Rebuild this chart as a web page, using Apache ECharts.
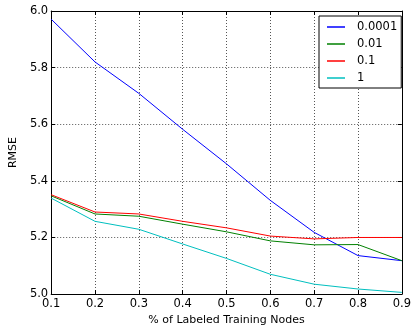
<!DOCTYPE html>
<html>
<head>
<meta charset="utf-8">
<script src="https://cdn.jsdelivr.net/npm/echarts@6/dist/echarts.min.js"></script>
<style>
  html, body { margin: 0; padding: 0; background: #fff; }
  #chart { width: 414px; height: 331px; }
</style>
</head>
<body>
<div id="chart"></div>
<script>
const categories = ["0.1", "0.2", "0.3", "0.4", "0.5", "0.6", "0.7", "0.8", "0.9"];
const seriesNames = ["0.0001", "0.01", "0.1", "1"];
const s0001 = [5.971, 5.820, 5.709, 5.582, 5.460, 5.331, 5.218, 5.136, 5.118];
const s001 = [5.347, 5.283, 5.275, 5.247, 5.220, 5.188, 5.174, 5.175, 5.118];
const s01 = [5.351, 5.290, 5.283, 5.257, 5.234, 5.205, 5.195, 5.200, 5.200];
const s1 = [5.339, 5.257, 5.229, 5.177, 5.126, 5.070, 5.035, 5.018, 5.006];
const colors = ["#0000ff", "#008000", "#ff0000", "#00bfbf"];

const font = "DejaVu Sans";
const chart = echarts.init(document.getElementById("chart"));

const tick = { show: true, inside: true, length: 4, lineStyle: { color: "#000", width: 1 } };
const frame = { show: true, onZero: false, lineStyle: { color: "#000", width: 1 } };
const grid = { show: true, lineStyle: { color: "#555", width: 1, type: [1, 2] } };

const makeSeries = (name, data, color) => ({
  name,
  type: "line",
  data,
  showSymbol: false,
  symbol: "none",
  lineStyle: { color, width: 1 },
  itemStyle: { color },
  animation: false
});

chart.setOption({
  animation: false,
  textStyle: { fontFamily: font },
  grid: { left: 40, right: 9, top: 11, bottom: 35 },
  legend: {
    orient: "vertical",
    left: 319,
    top: 16,
    padding: [5, 4, 4, 8],
    itemGap: 5,
    itemWidth: 18,
    itemHeight: 1.5,
    icon: "rect",
    borderColor: "#000",
    borderWidth: 1,
    backgroundColor: "#fff",
    textStyle: { fontFamily: font, fontSize: 11.5, color: "#000", padding: [0, 0, 0, 7] },
    data: seriesNames
  },
  xAxis: [
    {
      type: "category",
      data: categories,
      boundaryGap: false,
      name: "% of Labeled Training Nodes",
      nameLocation: "middle",
      nameGap: 17,
      nameTextStyle: { fontFamily: font, fontSize: 11, color: "#000" },
      axisLine: frame,
      axisTick: { ...tick, alignWithLabel: true },
      axisLabel: { fontFamily: font, fontSize: 11.5, color: "#000", margin: 4 },
      splitLine: grid
    },
    {
      type: "category",
      data: categories,
      boundaryGap: false,
      position: "top",
      axisLine: frame,
      axisTick: tick,
      axisLabel: { show: false },
      splitLine: { show: false }
    }
  ],
  yAxis: [
    {
      type: "value",
      min: 5,
      max: 6,
      interval: 0.2,
      name: "RMSE",
      nameLocation: "middle",
      nameGap: 23,
      nameTextStyle: { fontFamily: font, fontSize: 11, color: "#000" },
      axisLine: frame,
      axisTick: tick,
      axisLabel: { fontFamily: font, fontSize: 11.5, color: "#000", margin: 3, formatter: v => v.toFixed(1) },
      splitLine: grid
    },
    {
      type: "value",
      min: 5,
      max: 6,
      interval: 0.2,
      position: "right",
      axisLine: frame,
      axisTick: tick,
      axisLabel: { show: false },
      splitLine: { show: false }
    }
  ],
  series: [
    makeSeries(seriesNames[0], s0001, colors[0]),
    makeSeries(seriesNames[1], s001, colors[1]),
    makeSeries(seriesNames[2], s01, colors[2]),
    makeSeries(seriesNames[3], s1, colors[3])
  ]
});
</script>
</body>
</html>
